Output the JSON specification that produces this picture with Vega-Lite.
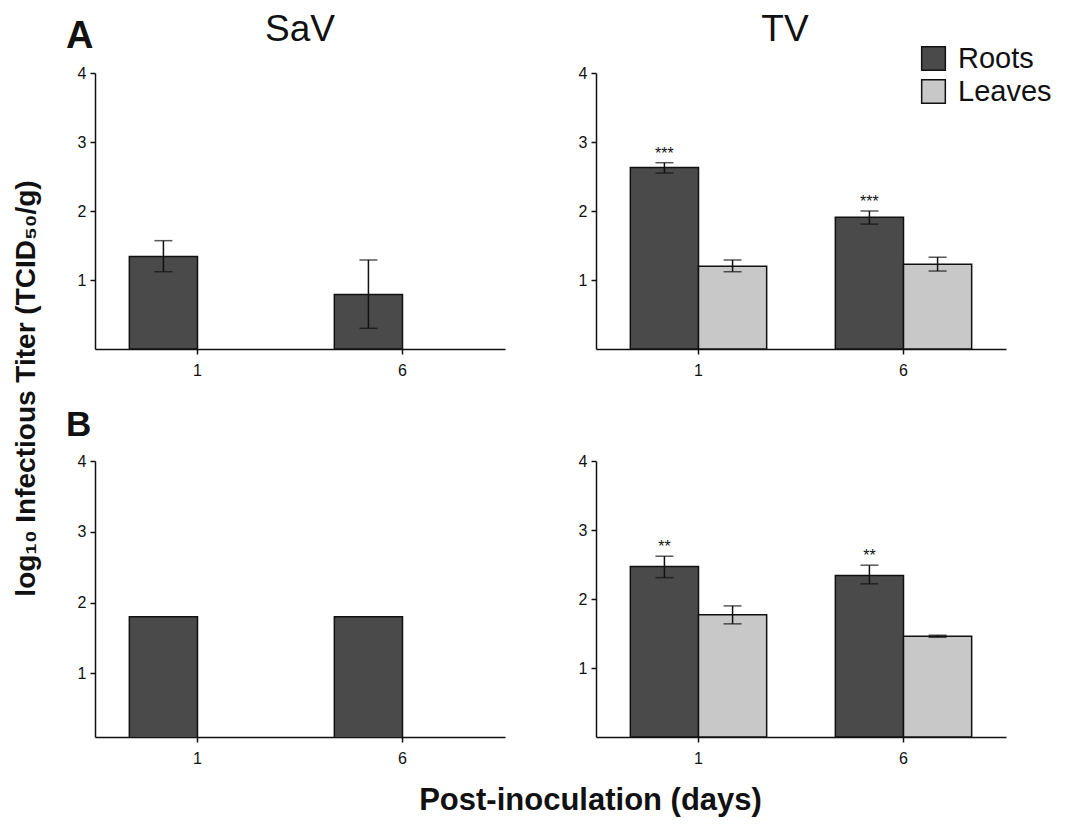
{
 "$schema": "https://vega.github.io/schema/vega-lite/v6.json",
 "padding": {"left": 13, "top": 11, "right": 0, "bottom": 5},
 "config": {
  "font": "Liberation Sans",
  "view": {"stroke": null},
  "axis": {"domainColor": "#111", "domainWidth": 1.5, "tickColor": "#111", "tickWidth": 1.5, "tickSize": 5, "labelColor": "#111", "labelFontSize": 16, "grid": false},
  "legend": {"orient": "none", "legendX": 824, "legendY": -29, "symbolType": "square", "symbolSize": 560, "symbolStrokeColor": "#111", "symbolStrokeWidth": 1.5, "labelFontSize": 29, "labelColor": "#111", "rowPadding": 2, "labelOffset": 10}
 },
 "datasets": {
  "d": [
   {"row": "A", "virus": "SaV", "day": "1", "tissue": "Roots", "mean": 1.34, "lo": 1.12, "hi": 1.57, "sig": ""},
   {"row": "A", "virus": "SaV", "day": "6", "tissue": "Roots", "mean": 0.79, "lo": 0.30, "hi": 1.29, "sig": ""},
   {"row": "A", "virus": "TV", "day": "1", "tissue": "Roots", "mean": 2.63, "lo": 2.55, "hi": 2.70, "sig": "***"},
   {"row": "A", "virus": "TV", "day": "1", "tissue": "Leaves", "mean": 1.20, "lo": 1.12, "hi": 1.29, "sig": ""},
   {"row": "A", "virus": "TV", "day": "6", "tissue": "Roots", "mean": 1.91, "lo": 1.81, "hi": 2.00, "sig": "***"},
   {"row": "A", "virus": "TV", "day": "6", "tissue": "Leaves", "mean": 1.23, "lo": 1.13, "hi": 1.33, "sig": ""},
   {"row": "B", "virus": "SaV", "day": "1", "tissue": "Roots", "mean": 1.80, "lo": null, "hi": null, "sig": ""},
   {"row": "B", "virus": "SaV", "day": "6", "tissue": "Roots", "mean": 1.80, "lo": null, "hi": null, "sig": ""},
   {"row": "B", "virus": "TV", "day": "1", "tissue": "Roots", "mean": 2.47, "lo": 2.31, "hi": 2.62, "sig": "**"},
   {"row": "B", "virus": "TV", "day": "1", "tissue": "Leaves", "mean": 1.77, "lo": 1.64, "hi": 1.90, "sig": ""},
   {"row": "B", "virus": "TV", "day": "6", "tissue": "Roots", "mean": 2.34, "lo": 2.22, "hi": 2.49, "sig": "**"},
   {"row": "B", "virus": "TV", "day": "6", "tissue": "Leaves", "mean": 1.46, "lo": 1.445, "hi": 1.475, "sig": ""}
  ]
 },
 "title": {"text": "Post-inoculation (days)", "orient": "bottom", "anchor": "middle", "fontSize": 31, "fontWeight": "bold", "color": "#111", "offset": 20, "dx": 58},
 "vconcat": [
  {
   "title": {"text": "log₁₀ Infectious Titer (TCID₅₀/g)", "orient": "left", "anchor": "middle", "fontSize": 28, "fontWeight": "bold", "color": "#111", "offset": 25},
   "spacing": 30,
   "vconcat": [
    {
     "title": {"text": "A", "anchor": "start", "fontSize": 38, "fontWeight": "bold", "color": "#111", "offset": -45, "dx": -11},
     "spacing": 73,
     "hconcat": [
      {
       "width": 410, "height": 276,
       "title": {"text": "SaV", "fontSize": 37, "fontWeight": "normal", "color": "#111", "offset": 16},
       "data": {"name": "d"},
       "transform": [{"filter": "datum.row === 'A' && datum.virus === 'SaV'"}],
       "encoding": {
        "x": {"field": "day", "type": "nominal", "title": null, "scale": {"domain": ["1", "6"], "paddingInner": 0.335, "paddingOuter": 0.1675}, "axis": {"labelAngle": 0, "labelPadding": 8}},
        "xOffset": {"field": "tissue", "type": "nominal", "scale": {"domain": ["Roots", "Leaves"]}}
       },
       "layer": [
        {"mark": {"type": "bar", "stroke": "#111", "strokeWidth": 1.5, "clip": true},
         "encoding": {"y": {"field": "mean", "type": "quantitative", "title": null, "scale": {"domain": [0.1, 4], "zero": false}, "axis": {"values": [1, 2, 3, 4], "format": "d", "labelPadding": 4}},
          "color": {"field": "tissue", "type": "nominal", "scale": {"domain": ["Roots", "Leaves"], "range": ["#4a4a4a", "#c8c8c8"]}, "legend": {"title": null}}}},
        {"mark": {"type": "rule", "color": "#111", "strokeWidth": 1.5}, "encoding": {"y": {"field": "lo", "type": "quantitative", "title": null}, "y2": {"field": "hi"}}},
        {"mark": {"type": "tick", "color": "#111", "thickness": 1.5, "size": 18}, "encoding": {"y": {"field": "hi", "type": "quantitative", "title": null}}},
        {"mark": {"type": "tick", "color": "#111", "thickness": 1.5, "size": 18}, "encoding": {"y": {"field": "lo", "type": "quantitative", "title": null}}}
       ]
      },
      {
       "width": 410, "height": 276,
       "title": {"text": "TV", "fontSize": 37, "fontWeight": "normal", "color": "#111", "offset": 16, "dx": -16},
       "data": {"name": "d"},
       "transform": [{"filter": "datum.row === 'A' && datum.virus === 'TV'"}],
       "encoding": {
        "x": {"field": "day", "type": "nominal", "title": null, "scale": {"domain": ["1", "6"], "paddingInner": 0.335, "paddingOuter": 0.1675}, "axis": {"labelAngle": 0, "labelPadding": 8}},
        "xOffset": {"field": "tissue", "type": "nominal", "scale": {"domain": ["Roots", "Leaves"]}}
       },
       "layer": [
        {"mark": {"type": "bar", "stroke": "#111", "strokeWidth": 1.5, "clip": true},
         "encoding": {"y": {"field": "mean", "type": "quantitative", "title": null, "scale": {"domain": [0.1, 4], "zero": false}, "axis": {"values": [1, 2, 3, 4], "format": "d", "labelPadding": 4}},
          "color": {"field": "tissue", "type": "nominal", "scale": {"domain": ["Roots", "Leaves"], "range": ["#4a4a4a", "#c8c8c8"]}, "legend": {"title": null}}}},
        {"mark": {"type": "rule", "color": "#111", "strokeWidth": 1.5}, "encoding": {"y": {"field": "lo", "type": "quantitative", "title": null}, "y2": {"field": "hi"}}},
        {"mark": {"type": "tick", "color": "#111", "thickness": 1.5, "size": 18}, "encoding": {"y": {"field": "hi", "type": "quantitative", "title": null}}},
        {"mark": {"type": "tick", "color": "#111", "thickness": 1.5, "size": 18}, "encoding": {"y": {"field": "lo", "type": "quantitative", "title": null}}},
        {"mark": {"type": "text", "fontSize": 16, "dy": -9, "baseline": "middle", "color": "#111"}, "encoding": {"y": {"field": "hi", "type": "quantitative", "title": null}, "text": {"field": "sig"}}}
       ]
      }
     ]
    },
    {
     "title": {"text": "B", "anchor": "start", "fontSize": 35, "fontWeight": "bold", "color": "#111", "offset": 10, "dx": -11},
     "spacing": 73,
     "hconcat": [
      {
       "width": 410, "height": 276,
       "data": {"name": "d"},
       "transform": [{"filter": "datum.row === 'B' && datum.virus === 'SaV'"}],
       "encoding": {
        "x": {"field": "day", "type": "nominal", "title": null, "scale": {"domain": ["1", "6"], "paddingInner": 0.335, "paddingOuter": 0.1675}, "axis": {"labelAngle": 0, "labelPadding": 8}},
        "xOffset": {"field": "tissue", "type": "nominal", "scale": {"domain": ["Roots", "Leaves"]}}
       },
       "layer": [
        {"mark": {"type": "bar", "stroke": "#111", "strokeWidth": 1.5, "clip": true},
         "encoding": {"y": {"field": "mean", "type": "quantitative", "title": null, "scale": {"domain": [0.1, 4], "zero": false}, "axis": {"values": [1, 2, 3, 4], "format": "d", "labelPadding": 4}},
          "color": {"field": "tissue", "type": "nominal", "scale": {"domain": ["Roots", "Leaves"], "range": ["#4a4a4a", "#c8c8c8"]}, "legend": {"title": null}}}}
       ]
      },
      {
       "width": 410, "height": 276,
       "data": {"name": "d"},
       "transform": [{"filter": "datum.row === 'B' && datum.virus === 'TV'"}],
       "encoding": {
        "x": {"field": "day", "type": "nominal", "title": null, "scale": {"domain": ["1", "6"], "paddingInner": 0.335, "paddingOuter": 0.1675}, "axis": {"labelAngle": 0, "labelPadding": 8}},
        "xOffset": {"field": "tissue", "type": "nominal", "scale": {"domain": ["Roots", "Leaves"]}}
       },
       "layer": [
        {"mark": {"type": "bar", "stroke": "#111", "strokeWidth": 1.5, "clip": true},
         "encoding": {"y": {"field": "mean", "type": "quantitative", "title": null, "scale": {"domain": [0.1, 4], "zero": false}, "axis": {"values": [1, 2, 3, 4], "format": "d", "labelPadding": 4}},
          "color": {"field": "tissue", "type": "nominal", "scale": {"domain": ["Roots", "Leaves"], "range": ["#4a4a4a", "#c8c8c8"]}, "legend": {"title": null}}}},
        {"mark": {"type": "rule", "color": "#111", "strokeWidth": 1.5}, "encoding": {"y": {"field": "lo", "type": "quantitative", "title": null}, "y2": {"field": "hi"}}},
        {"mark": {"type": "tick", "color": "#111", "thickness": 1.5, "size": 18}, "encoding": {"y": {"field": "hi", "type": "quantitative", "title": null}}},
        {"mark": {"type": "tick", "color": "#111", "thickness": 1.5, "size": 18}, "encoding": {"y": {"field": "lo", "type": "quantitative", "title": null}}},
        {"mark": {"type": "text", "fontSize": 16, "dy": -9, "baseline": "middle", "color": "#111"}, "encoding": {"y": {"field": "hi", "type": "quantitative", "title": null}, "text": {"field": "sig"}}}
       ]
      }
     ]
    }
   ]
  }
 ]
}
